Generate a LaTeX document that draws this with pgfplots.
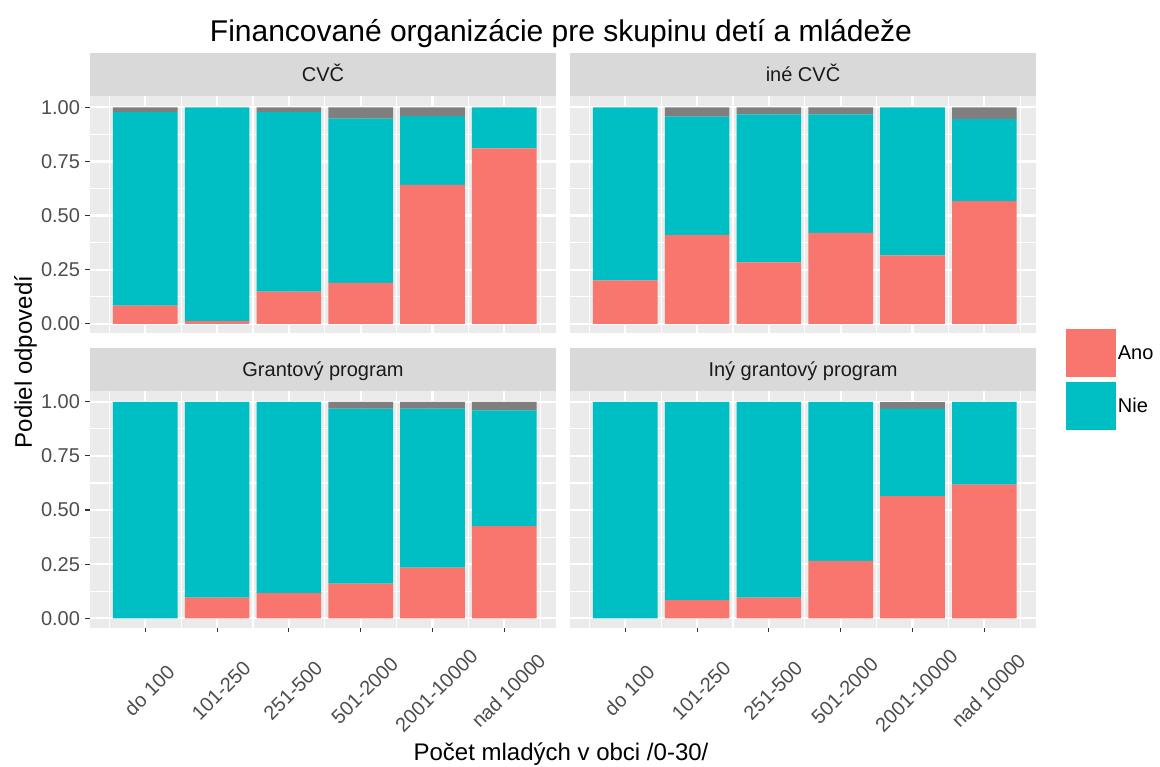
\documentclass[border=0pt]{standalone}
\usepackage{fontspec}
\setmainfont{Liberation Sans}
\usepackage{pgfplots}
\pgfplotsset{compat=1.18}
\definecolor{ano}{HTML}{F8766D}
\definecolor{nie}{HTML}{00BFC4}
\definecolor{nagray}{HTML}{7F7F7F}
\definecolor{panelbg}{HTML}{EBEBEB}
\definecolor{stripbg}{HTML}{D9D9D9}
\definecolor{tickcol}{HTML}{333333}
\definecolor{ticklab}{HTML}{4D4D4D}
\definecolor{striptext}{HTML}{1A1A1A}
\newcommand{\fs}[1]{\fontsize{#1}{#1}\selectfont}
\pgfplotsset{
  facet/.style={
    scale only axis, width=466pt, height=237pt, anchor=south west,
    xmin=0.23, xmax=6.72, ymin=-0.045, ymax=1.05,
    ybar stacked, bar width=0.9,
    axis background/.style={fill=panelbg},
    axis line style={draw=none},
    xtick={1,2,3,4,5,6}, minor xtick={0.5,1.5,2.5,3.5,4.5,5.5,6.5},
    ytick={0,0.25,0.5,0.75,1}, minor ytick={0.125,0.375,0.625,0.875},
    grid=both,
    major grid style={white, line width=2.2pt},
    minor grid style={white, line width=1.1pt},
    tick align=outside, tick pos=left,
    major tick length=4.5pt, minor tick length=0pt,
    tick style={color=tickcol, line width=1.1pt},
    /pgf/number format/assume math mode=true,
    yticklabels={0.00,0.25,0.50,0.75,1.00},
    yticklabel style={font=\fs{20}, text=ticklab, xshift=-2pt},
    xticklabels={do 100,101-250,251-500,501-2000,2001-10000,nad 10000},
    xticklabel style={xshift=4pt, yshift=-58pt, rotate=45, anchor=center, font=\fs{20}, text=ticklab},
    clip=false,
  },
  notx/.style={xmajorticks=false, xticklabels={}},
  noty/.style={ymajorticks=false, yticklabels={}},
}
\begin{document}
\begin{tikzpicture}
\path[use as bounding box] (0,0) rectangle (1160pt,767pt);
% Top left: CVC
\begin{axis}[facet, notx, at={(90pt,433.5pt)}]
\addplot[fill=ano, draw=none] coordinates {(1,0.084) (2,0.012) (3,0.148) (4,0.189) (5,0.642) (6,0.810)};
\addplot[fill=nie, draw=none] coordinates {(1,0.894) (2,0.988) (3,0.830) (4,0.759) (5,0.317) (6,0.190)};
\addplot[fill=nagray, draw=none] coordinates {(1,0.022) (2,0) (3,0.022) (4,0.052) (5,0.041) (6,0)};
\end{axis}
% Top right: ine CVC
\begin{axis}[facet, notx, noty, at={(570pt,433.5pt)},
  legend style={at={(1.0637,0.019)}, anchor=north west, draw=none, fill=none,
    font=\fs{20}, inner sep=0pt, row sep=5pt,
    /tikz/every even column/.append style={column sep=6pt}},
  legend cell align=left,
  legend image code/.code={\path[#1] (0pt,-24pt) rectangle (50pt,24pt);}]
\addplot[fill=ano, draw=none] coordinates {(1,0.200) (2,0.409) (3,0.284) (4,0.420) (5,0.316) (6,0.566)};
\addlegendentry{Ano}
\addplot[fill=nie, draw=none] coordinates {(1,0.800) (2,0.548) (3,0.683) (4,0.547) (5,0.684) (6,0.379)};
\addlegendentry{Nie}
\addplot[fill=nagray, draw=none, forget plot] coordinates {(1,0) (2,0.043) (3,0.033) (4,0.033) (5,0) (6,0.055)};
\end{axis}
% Bottom left: Grantovy program
\begin{axis}[facet, at={(90pt,139pt)}]
\addplot[fill=ano, draw=none] coordinates {(1,0) (2,0.095) (3,0.116) (4,0.160) (5,0.234) (6,0.426)};
\addplot[fill=nie, draw=none] coordinates {(1,1.000) (2,0.905) (3,0.884) (4,0.809) (5,0.735) (6,0.534)};
\addplot[fill=nagray, draw=none] coordinates {(1,0) (2,0) (3,0) (4,0.031) (5,0.031) (6,0.040)};
\end{axis}
% Bottom right: Iny grantovy program
\begin{axis}[facet, noty, at={(570pt,139pt)}]
\addplot[fill=ano, draw=none] coordinates {(1,0) (2,0.084) (3,0.095) (4,0.265) (5,0.564) (6,0.617)};
\addplot[fill=nie, draw=none] coordinates {(1,1.000) (2,0.916) (3,0.905) (4,0.735) (5,0.405) (6,0.383)};
\addplot[fill=nagray, draw=none] coordinates {(1,0) (2,0) (3,0) (4,0) (5,0.031) (6,0)};
\end{axis}
% facet strips
\fill[stripbg] (90pt,670.5pt) rectangle (556pt,713.5pt);
\fill[stripbg] (570pt,670.5pt) rectangle (1036pt,713.5pt);
\fill[stripbg] (90pt,376pt) rectangle (556pt,419pt);
\fill[stripbg] (570pt,376pt) rectangle (1036pt,419pt);
\node[anchor=base, text=striptext, font=\fs{20}] at (323pt,685pt) {CVČ};
\node[anchor=base, text=striptext, font=\fs{20}] at (803pt,685pt) {iné CVČ};
\node[anchor=base, text=striptext, font=\fs{20}] at (323pt,390.5pt) {Grantový program};
\node[anchor=base, text=striptext, font=\fs{20}] at (803pt,390.5pt) {Iný grantový program};
\node[anchor=base, font=\fs{30}] at (561pt,725pt) {Financované organizácie pre skupinu detí a mládeže};
\node[anchor=base, font=\fs{24}] at (561pt,6pt) {Počet mladých v obci /0-30/};
\node[anchor=base, rotate=90, font=\fs{24}] at (32pt,405pt) {Podiel odpovedí};
\end{tikzpicture}
\end{document}
